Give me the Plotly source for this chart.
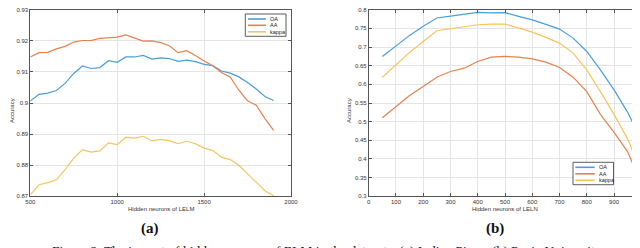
import plotly.graph_objects as go

# ---- data (a) Indian Pines ----
x_a = [500, 550, 600, 650, 700, 750, 800, 850, 900, 950, 1000, 1050, 1100, 1150, 1200,
       1250, 1300, 1350, 1400, 1450, 1500, 1550, 1600, 1650, 1700, 1750, 1800, 1850, 1900]
oa_a = [0.9006, 0.9028, 0.9032, 0.9040, 0.9063, 0.9095, 0.9119, 0.9111, 0.9114, 0.9136,
        0.9131, 0.9148, 0.9148, 0.9153, 0.9141, 0.9145, 0.9143, 0.9134, 0.9138, 0.9133,
        0.9124, 0.9120, 0.9103, 0.9096, 0.9084, 0.9066, 0.9045, 0.9021, 0.9008]
aa_a = [0.9148, 0.9162, 0.9163, 0.9174, 0.9182, 0.9196, 0.9201, 0.9201, 0.9208, 0.9210,
        0.9212, 0.9219, 0.9208, 0.9199, 0.9200, 0.9194, 0.9184, 0.9162, 0.9168, 0.9153,
        0.9135, 0.9120, 0.9098, 0.9084, 0.9041, 0.9007, 0.8993, 0.8950, 0.8912]
kappa_a = [0.8705, 0.8737, 0.8744, 0.8753, 0.8786, 0.8823, 0.8850, 0.8842, 0.8846, 0.8872,
           0.8866, 0.8890, 0.8887, 0.8893, 0.8878, 0.8883, 0.8879, 0.8869, 0.8877, 0.8869,
           0.8855, 0.8847, 0.8826, 0.8818, 0.8800, 0.8772, 0.8743, 0.8718, 0.8702]

# ---- data (b) Pavia University ----
x_b = [50, 100, 150, 200, 250, 300, 350, 400, 450, 500,
       550, 600, 650, 700, 750, 800, 850, 900, 950, 1000]
oa_b = [0.6747, 0.7032, 0.7312, 0.7554, 0.7777, 0.7830, 0.7880, 0.7930, 0.7916, 0.7920,
        0.7822, 0.7726, 0.7607, 0.7480, 0.7239, 0.6881, 0.6387, 0.5850, 0.5250, 0.4505]
aa_b = [0.5107, 0.5403, 0.5699, 0.5940, 0.6191, 0.6344, 0.6433, 0.6613, 0.6728, 0.6747,
        0.6728, 0.6683, 0.6594, 0.6452, 0.6191, 0.5806, 0.5196, 0.4712, 0.4193, 0.3341]
kappa_b = [0.6191, 0.6522, 0.6855, 0.7150, 0.7436, 0.7490, 0.7540, 0.7597, 0.7616, 0.7616,
           0.7508, 0.7400, 0.7258, 0.7105, 0.6836, 0.6387, 0.5806, 0.5196, 0.4532, 0.3656]

names = ["OA", "AA", "kappa"]
colors = ["#4A9FD8", "#E8804F", "#F6C45E"]

yticks_a = [0.87, 0.88, 0.89, 0.90, 0.91, 0.92, 0.93]
yticklabels_a = ["0.87", "0.88", "0.89", "0.9", "0.91", "0.92", "0.93"]
xticks_a = [500, 1000, 1500, 2000]
yticks_b = [0.3, 0.35, 0.4, 0.45, 0.5, 0.55, 0.6, 0.65, 0.7, 0.75, 0.8]
yticklabels_b = ["0.3", "0.35", "0.4", "0.45", "0.5", "0.55", "0.6", "0.65", "0.7", "0.75", "0.8"]
xticks_b = [0, 100, 200, 300, 400, 500, 600, 700, 800, 900, 1000]

fig = go.Figure()
for name, col, ys in zip(names, colors, [oa_a, aa_a, kappa_a]):
    fig.add_trace(go.Scatter(x=x_a, y=ys, name=name, mode="lines",
                             line=dict(color=col, width=1.2), xaxis="x", yaxis="y",
                             showlegend=False))
for name, col, ys in zip(names, colors, [oa_b, aa_b, kappa_b]):
    fig.add_trace(go.Scatter(x=x_b, y=ys, name=name, mode="lines",
                             line=dict(color=col, width=1.2), xaxis="x2", yaxis="y2",
                             showlegend=False))

W, H = 640, 248
ydom = [1 - 188.3 / H, 1 - 1.7 / H]
tickfont = dict(family="Liberation Sans, Arial", size=6, color="#333333")
axcommon = dict(showline=True, linecolor="#555555", linewidth=0.8, mirror="allticks",
                ticks="inside", ticklen=3, tickcolor="#555555", tickwidth=0.6,
                showgrid=True, gridcolor="#E4E4E4", gridwidth=0.8, zeroline=False,
                tickfont=tickfont, automargin=False, ticklabeloverflow="allow")

fig.update_layout(
    width=W, height=H, margin=dict(l=0, r=0, t=0, b=0),
    paper_bgcolor="white", plot_bgcolor="white", showlegend=False,
    xaxis=dict(domain=[22.3 / W, 283 / W], range=[500, 2000], tickvals=xticks_a,
               anchor="y", **axcommon),
    yaxis=dict(domain=ydom, range=[0.87, 0.93], tickvals=yticks_a, ticktext=yticklabels_a,
               anchor="x", **axcommon),
    xaxis2=dict(domain=[360.7 / W, 633.3 / W], range=[0, 1000], tickvals=xticks_b,
                anchor="y2", **axcommon),
    yaxis2=dict(domain=ydom, range=[0.3, 0.8], tickvals=yticks_b, ticktext=yticklabels_b,
                anchor="x2", **axcommon),
)

# ---- custom legends (pixel boxes) ----
def px_x(p):
    return p / W

def px_y(p):
    return 1 - p / H

legfont = dict(family="Liberation Sans, Arial", size=5.5, color="#222222")
legends = [
    dict(box=(237.3, 6.0, 278.0, 28.3), lx=(240.0, 258.0), tx=260.0, ys=(11.0, 17.3, 23.8)),
    dict(box=(565.0, 154.3, 605.5, 176.7), lx=(567.3, 586.7), tx=589.0, ys=(159.3, 165.8, 172.3)),
]
for lg in legends:
    x0, y0, x1, y1 = lg["box"]
    fig.add_shape(type="rect", xref="paper", yref="paper",
                  x0=px_x(x0), x1=px_x(x1), y0=px_y(y1), y1=px_y(y0),
                  line=dict(color="#333333", width=0.8), fillcolor="white", layer="above")
    for name, col, yy in zip(names, colors, lg["ys"]):
        fig.add_shape(type="line", xref="paper", yref="paper",
                      x0=px_x(lg["lx"][0]), x1=px_x(lg["lx"][1]), y0=px_y(yy), y1=px_y(yy),
                      line=dict(color=col, width=1.6), layer="above")
        fig.add_annotation(xref="paper", yref="paper", x=px_x(lg["tx"]), y=px_y(yy),
                           text=name, showarrow=False, xanchor="left", yanchor="middle",
                           font=legfont)

labfont = dict(family="Liberation Sans, Arial", size=6, color="#333333")
ann = [
    dict(text="Hidden neurons of LELM", x=(22.3 + 283) / 2 / W, y=1 - 201 / H,
         font=labfont),
    dict(text="Hidden neurons of LELN", x=(360.7 + 633.3) / 2 / W, y=1 - 201 / H,
         font=labfont),
    dict(text="Accuracy", x=4 / W, y=1 - 103 / H, textangle=-90, font=labfont),
    dict(text="Accuracy", x=341 / W, y=1 - 103 / H, textangle=-90, font=labfont),
    dict(text="<b>(a)</b>", x=142 / W, y=1 - 220 / H,
         font=dict(family="Liberation Serif, serif", size=15, color="#111111")),
    dict(text="<b>(b)</b>", x=487 / W, y=1 - 220 / H,
         font=dict(family="Liberation Serif, serif", size=15, color="#111111")),
    dict(text="Figure 2. The impact of hidden neurons of ELM in the datasets: (a) Indian Pines; (b) Pavia University.",
         x=0.5, y=1 - 242 / H, xanchor="center", yanchor="middle",
         font=dict(family="Liberation Serif, serif", size=13.5, color="#111111")),
]
for a in ann:
    a.setdefault("xanchor", "center")
    a.setdefault("yanchor", "middle")
    fig.add_annotation(xref="paper", yref="paper", showarrow=False, **a)

fig.write_html("out.html")
